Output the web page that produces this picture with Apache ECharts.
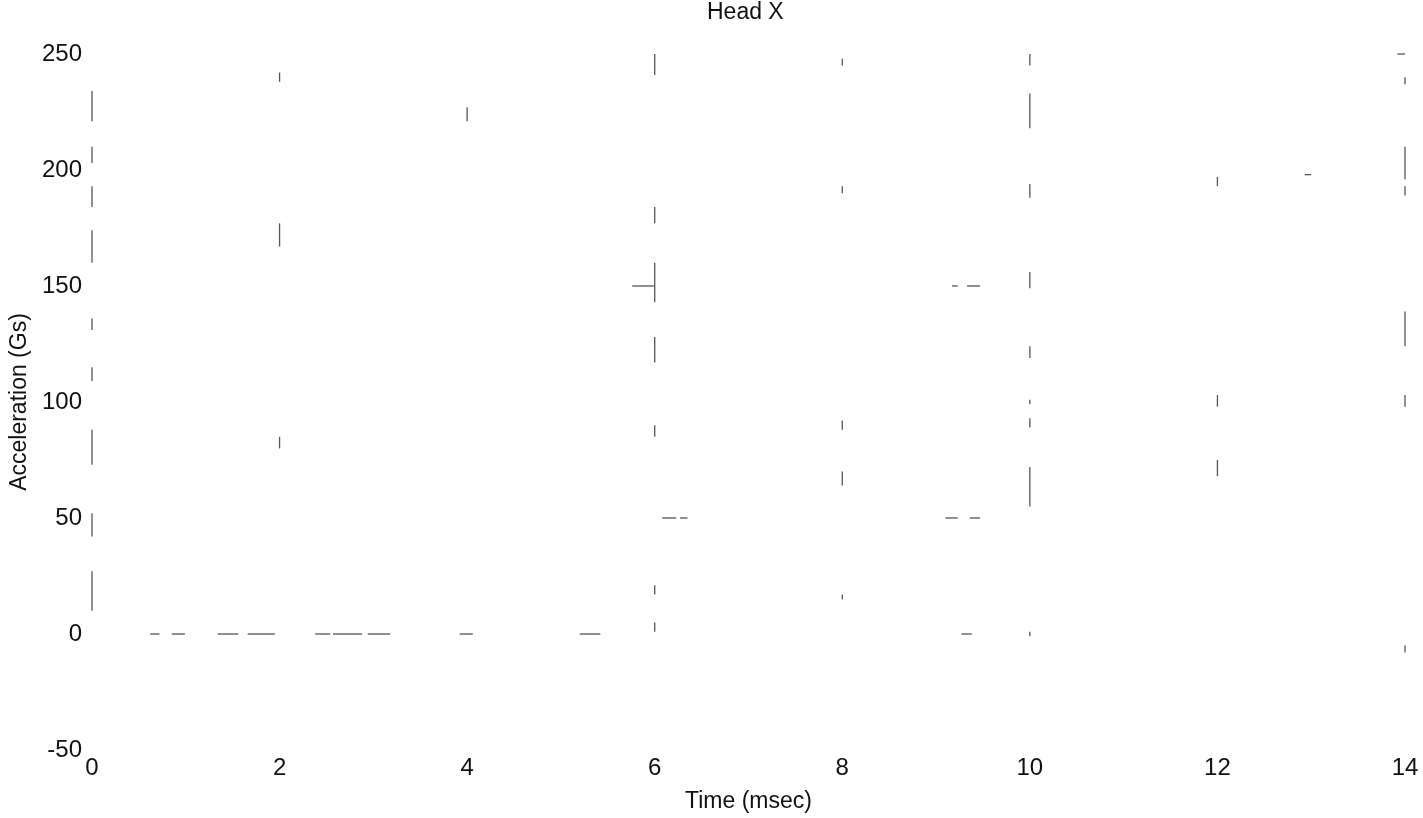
<!DOCTYPE html>
<html>
<head>
<meta charset="utf-8">
<script src="https://cdn.jsdelivr.net/npm/echarts@6/dist/echarts.min.js"></script>
<style>html,body{margin:0;padding:0;background:#fff}#c{width:1423px;height:818px}</style>
</head>
<body>
<div id="c"></div>
<script>
const titleText = 'Head X';
const xName = 'Time (msec)';
const yName = 'Acceleration (Gs)';
const xTicks = [0, 2, 4, 6, 8, 10, 12, 14];
const yTicks = [-50, 0, 50, 100, 150, 200, 250];

// Residual faint trace fragments: vertical [x, yFrom, yTo]
const vSegs = [
  [0, 221, 234], [0, 203, 210], [0, 184, 193], [0, 160, 174], [0, 131, 136],
  [0, 109, 115], [0, 73, 88], [0, 42, 52], [0, 10, 27],
  [2, 238, 242], [2, 167, 177], [2, 80, 85],
  [4, 221, 227],
  [6, 241, 250], [6, 177, 184], [6, 143, 160], [6, 117, 128], [6, 85, 90], [6, 17, 21], [6, 1, 5],
  [8, 245, 248], [8, 190, 193], [8, 88, 92], [8, 64, 70], [8, 15, 17],
  [10, 245, 250], [10, 218, 233], [10, 188, 194], [10, 149, 156], [10, 119, 124],
  [10, 99, 101], [10, 89, 93], [10, 55, 72], [10, -1, 1],
  [12, 193, 197], [12, 98, 103], [12, 68, 75],
  [14, 237, 240], [14, 196, 210], [14, 189, 193], [14, 124, 139], [14, 98, 103], [14, -8, -5]
];
// horizontal [y, xFrom, xTo]
const hSegs = [
  [0, 0.62, 0.72], [0, 0.85, 0.99], [0, 1.34, 1.56], [0, 1.66, 1.95],
  [0, 2.38, 2.54], [0, 2.57, 2.88], [0, 2.94, 3.18], [0, 3.92, 4.06], [0, 5.2, 5.42],
  [0, 9.27, 9.38],
  [150, 5.76, 5.99], [150, 9.17, 9.23], [150, 9.33, 9.47],
  [50, 6.08, 6.23], [50, 6.27, 6.35], [50, 9.1, 9.23], [50, 9.36, 9.47],
  [198, 12.93, 13.0], [250, 13.92, 14.0]
];

const segData = [];
vSegs.forEach(s => segData.push([s[0], s[1], s[0], s[2]]));
hSegs.forEach(s => segData.push([s[1], s[0], s[2], s[0]]));

const FONT = 'Liberation Sans, Arial, sans-serif';
const chart = echarts.init(document.getElementById('c'), null, {renderer: 'canvas'});
chart.setOption({
  animation: false,
  backgroundColor: '#fff',
  title: {
    text: titleText, left: 707, top: 1, padding: 0,
    textStyle: {fontFamily: FONT, fontSize: 23, fontWeight: 'normal', color: '#111'}
  },
  grid: {left: 92, right: 18, top: 54, bottom: 66, containLabel: false},
  xAxis: {
    type: 'value', min: xTicks[0], max: xTicks[xTicks.length - 1], interval: 2,
    name: xName, nameLocation: 'middle', nameGap: 40,
    nameTextStyle: {fontFamily: FONT, fontSize: 23, color: '#111'},
    axisLine: {show: false}, axisTick: {show: false}, splitLine: {show: false},
    axisLabel: {fontFamily: FONT, fontSize: 24, color: '#111', margin: 6}
  },
  yAxis: {
    type: 'value', min: yTicks[0], max: yTicks[yTicks.length - 1], interval: 50,
    name: yName, nameLocation: 'middle', nameGap: 60, nameRotate: 90,
    nameTextStyle: {fontFamily: FONT, fontSize: 23, color: '#111'},
    axisLine: {show: false}, axisTick: {show: false}, splitLine: {show: false},
    axisLabel: {fontFamily: FONT, fontSize: 24, color: '#111', margin: 10}
  },
  series: [{
    type: 'custom',
    clip: false,
    data: segData,
    encode: {x: [0, 2], y: [1, 3]},
    renderItem: function (params, api) {
      const p1 = api.coord([api.value(0), api.value(1)]);
      const p2 = api.coord([api.value(2), api.value(3)]);
      return {
        type: 'line',
        shape: {x1: p1[0], y1: p1[1], x2: p2[0], y2: p2[1]},
        style: {stroke: '#555', lineWidth: 1.3}
      };
    }
  }]
});
</script>
</body>
</html>
